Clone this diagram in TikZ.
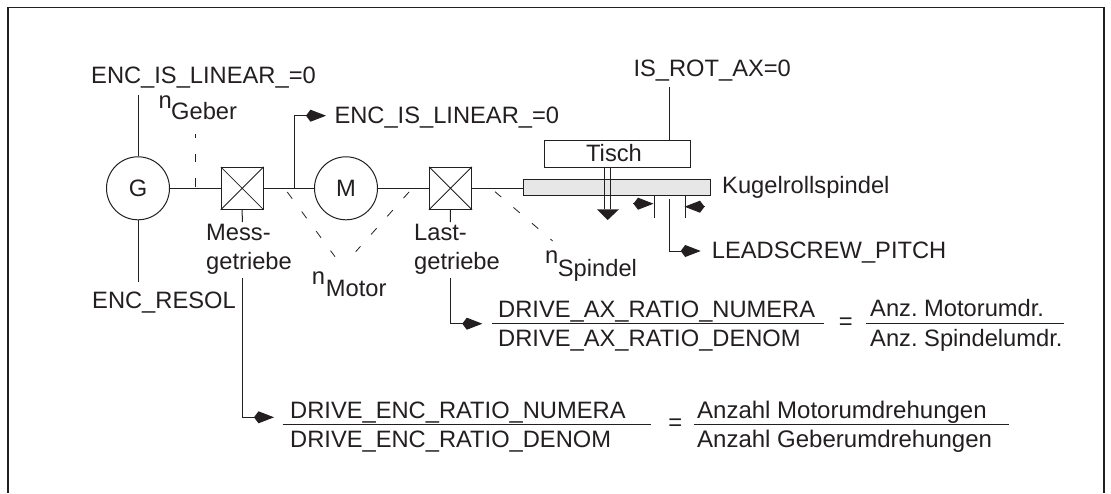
\documentclass[tikz,border=0pt]{standalone}
\usepackage{fontspec}
\setmainfont{Liberation Sans}
\usetikzlibrary{arrows.meta}
\definecolor{ink}{HTML}{231F20}
\definecolor{screw}{HTML}{E6E7E6}
\tikzset{
  x=1pt,y=-1pt,
  every node/.style={text=ink},
  ln/.style={draw=ink,line width=1pt},
  lab/.style={anchor=base west,inner sep=0pt,font=\frenchspacing\fontsize{23.7}{27}\selectfont},
  lablong/.style={anchor=base west,inner sep=0pt,font=\frenchspacing\fontsize{24}{27}\selectfont},
  ctr/.style={inner sep=0pt,font=\fontsize{23.7}{27}\selectfont},
  gearbox/.style={ln,rectangle,minimum size=42pt,inner sep=0pt},
  machine/.style={ln,circle,minimum size=63pt,inner sep=0pt,font=\fontsize{23.7}{27}\selectfont},
  arr/.style={ln,-{Kite[length=20pt,width=12pt,inset=4.5pt]}},
  dashline/.style={ln,line width=0.8pt,dash pattern=on 8.3pt off 16pt},
  frac/.style={ln},
}
\begin{document}
\begin{tikzpicture}
\useasboundingbox (0,0) rectangle (1111,493);
% frame
\coordinate (fa) at (8,493);
\coordinate (fb) at (8,7.5);
\coordinate (fc) at (1104,7.5);
\coordinate (fd) at (1104,493);
\draw[draw=ink,line width=1.8pt] (fa) -- (fb) -- (fc) -- (fd);

% machines
\node[machine] (g) at (138,188.3) {G};
\node[machine] (m) at (346,188.3) {M};
\node[gearbox] (b1) at (242.2,188.3) {};
\node[gearbox] (b2) at (450.5,188.3) {};
\draw[ln,line width=0.8pt] (b1.north west) -- (b1.south east) (b1.north east) -- (b1.south west);
\draw[ln,line width=0.8pt] (b2.north west) -- (b2.south east) (b2.north east) -- (b2.south west);

% spindle and table
\node[ln,fill=screw,rectangle,inner sep=0pt,minimum width=187.4pt,minimum height=16pt] (sp) at (617,187.3) {};
\node[ln,rectangle,inner sep=0pt,minimum width=146pt,minimum height=26.6pt,ctr] (ti) at (617,154) {};
\node[lab,anchor=base] (tit) at (614,161.7) {Tisch};

% shafts
\draw[ln] (g) -- (b1);
\draw[ln] (b1) -- (m);
\draw[ln] (m) -- (b2);
\coordinate (spw) at (sp.west |- b2.east);
\draw[ln] (b2) -- (spw);

% labels
\node[lab] (enc1) at (91,83.3) {ENC\_IS\_LINEAR\_=0};
\node[lab] (enc2) at (334.3,123.3) {ENC\_IS\_LINEAR\_=0};
\node[lab] (rot) at (633.3,76.7) {IS\_ROT\_AX=0};
\node[lab] (kug) at (722,193) {Kugelrollspindel};
\node[lab] (lead) at (711.7,258.3) {LEADSCREW\_PITCH};
\node[lab] (res) at (92,308.3) {ENC\_RESOL};
\node[lab] (mess1) at (206,240.7) {Mess-};
\node[lab] (mess2) at (206,269) {getriebe};
\node[lab] (last1) at (414,240.7) {Last-};
\node[lab] (last2) at (414,269) {getriebe};
\node[lab] (ng1) at (158.3,108.3) {n};
\node[lab] (ng2) at (171,119.3) {Geber};
\node[lab] (nm1) at (311.7,284) {n};
\node[lab] (nm2) at (325.7,296) {Motor};
\node[lab] (ns1) at (545,263) {n};
\node[lab] (ns2) at (557.7,276) {Spindel};

% encoder leads
\coordinate (gt) at (138,95);
\coordinate (gb) at (138,281.5);
\draw[ln] (g.north) -- (gt);
\draw[ln] (g.south) -- (gb);

% junction to second ENC label
\coordinate (j) at (294.3,188.3);
\coordinate (jc) at (294.3,115.7);
\coordinate (ja) at (326,115.7);
\draw[arr] (j) -- (jc) -- (ja);

% IS_ROT lead
\coordinate (rt) at (669,87);
\coordinate (rb) at (669,140.7);
\draw[ln] (rt) -- (rb);

% table drive
\coordinate (d1a) at (604.7,167.3);
\coordinate (d1b) at (604.7,209.3);
\coordinate (d2a) at (610.7,167.3);
\coordinate (d2b) at (610.7,209.3);
\draw[ln,line width=0.9pt] (d1a) -- (d1b) (d2a) -- (d2b);
\coordinate (t1) at (597,209.3);
\coordinate (t2) at (619,209.3);
\coordinate (t3) at (607.7,220);
\fill[ink] (t1) -- (t2) -- (t3) -- cycle;

% pitch
\coordinate (p1a) at (654,195.3);
\coordinate (p1b) at (654,217.5);
\coordinate (p2a) at (685.7,195.3);
\coordinate (p2b) at (685.7,217.5);
\draw[ln,line width=0.9pt] (p1a) -- (p1b) (p2a) -- (p2b);
\coordinate (a1s) at (633.3,203.7);
\coordinate (a1e) at (653.5,203.7);
\coordinate (a2s) at (704,206.7);
\coordinate (a2e) at (684.5,206.7);
\draw[arr] (a1s) -- (a1e);
\draw[arr] (a2s) -- (a2e);
\coordinate (pa) at (669,199);
\coordinate (pb) at (669,251);
\coordinate (pc) at (700.7,251);
\draw[arr] (pa) -- (pb) -- (pc);

% dashed speed markers
\coordinate (dg1) at (195,134);
\coordinate (dg2) at (195,188);
\draw[dashline,dash phase=4.3pt] (dg1) -- (dg2);
\coordinate (dm1) at (287.3,192);
\coordinate (dm2) at (335,256.7);
\coordinate (dm3) at (409,192);
\coordinate (dm4) at (355.7,251.7);
\draw[dashline] (dm1) -- (dm2);
\draw[dashline] (dm3) -- (dm4);
\coordinate (ds1) at (495,191.7);
\coordinate (ds2) at (552.7,241);
\draw[dashline] (ds1) -- (ds2);

% gearbox leads
\coordinate (s1) at (242.3,222);
\coordinate (s2) at (242.3,278);
\coordinate (s3) at (242.3,417.3);
\coordinate (s4) at (274,417.3);
\draw[ln] (b1.south) -- (s1);
\draw[arr] (s2) -- (s3) -- (s4);
\coordinate (u1) at (450.3,222);
\coordinate (u2) at (450.3,278);
\coordinate (u3) at (450.3,323.7);
\coordinate (u4) at (482.3,323.7);
\draw[ln] (b2.south) -- (u1);
\draw[arr] (u2) -- (u3) -- (u4);

% upper ratio
\node[lab] (an) at (498,317) {DRIVE\_AX\_RATIO\_NUMERA};
\node[lab] (ad) at (498,346.7) {DRIVE\_AX\_RATIO\_DENOM};
\coordinate (af1) at (492,323.7);
\coordinate (af2) at (824,323.7);
\draw[frac] (af1) -- (af2);
\node[ctr] (aeq) at (845.7,324) {=};
\node[lab] (bn) at (870,316.7) {Anz. Motorumdr.};
\node[lab] (bd) at (870,346) {Anz. Spindelumdr.};
\coordinate (bf1) at (866,323.7);
\coordinate (bf2) at (1064,323.7);
\draw[frac] (bf1) -- (bf2);

% lower ratio
\node[lab] (cn) at (290,418.3) {DRIVE\_ENC\_RATIO\_NUMERA};
\node[lab] (cd) at (290,447.3) {DRIVE\_ENC\_RATIO\_DENOM};
\coordinate (cf1) at (282.7,424.7);
\coordinate (cf2) at (650.7,424.7);
\draw[frac] (cf1) -- (cf2);
\node[ctr] (ceq) at (675.3,425) {=};
\node[lablong] (dn) at (697,418.3) {Anzahl Motorumdrehungen};
\node[lablong] (dd) at (697,447.3) {Anzahl Geberumdrehungen};
\coordinate (df1) at (694,424.7);
\coordinate (df2) at (1009,424.7);
\draw[frac] (df1) -- (df2);
\end{tikzpicture}
\end{document}
